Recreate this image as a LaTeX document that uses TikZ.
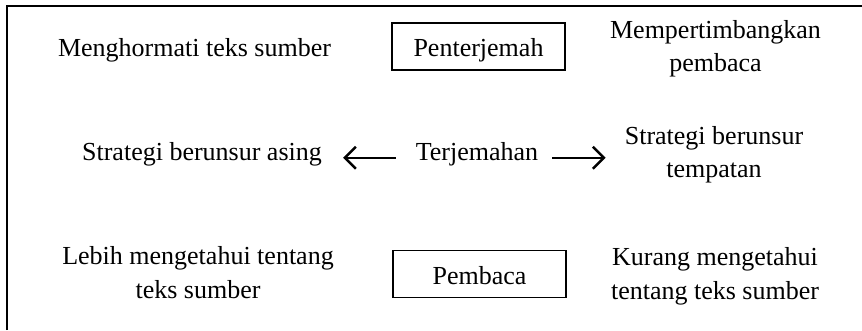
\documentclass[tikz,border=0pt]{standalone}
\usepackage{fontspec}
\setmainfont{Liberation Serif}
\usetikzlibrary{arrows.meta}
\begin{document}
\begin{tikzpicture}[x=1pt,y=-1pt,
  lbl/.style={align=center,inner sep=0pt,font=\fontsize{26}{33.5}\selectfont},
  boxed/.style={draw,line width=1.4pt,minimum width=173pt,minimum height=47pt,inner sep=0pt,
    text height=20pt,text depth=0pt,font=\fontsize{26}{33.5}\selectfont},
  arr/.style={line width=2.5pt,-{Straight Barb[length=11pt,width=22pt,line width=2.5pt]}}]
\useasboundingbox (0,0) rectangle (862,330);
\draw[line width=1.4pt] (7,330) -- (7,6) -- (862,6);
\node[lbl,anchor=base] (hormat) at (194.5,56) {Menghormati teks sumber};
\node[boxed] (penterj) at (478.5,46.5) {Penterjemah};
\node[lbl] (timbang) at (715.5,48.5) {Mempertimbangkan\\pembaca};
\node[lbl,anchor=base] (asing) at (202,160) {Strategi berunsur asing};
\node[lbl,anchor=base] (terj) at (477,160) {Terjemahan};
\node[lbl] (tempat) at (714,154.5) {Strategi berunsur\\tempatan};
\node[lbl] (lebih) at (198,272.6) {Lebih mengetahui tentang\\teks sumber};
\node[boxed] (pembaca) at (479.5,274) {Pembaca};
\node[lbl] (kurang) at (715,276.4) {Kurang mengetahui\\tentang teks sumber};
\draw[arr,shorten <=20pt,shorten >=21pt] ([yshift=-4pt]terj.west) -- ([yshift=-4pt]terj.west -| asing.east);
\draw[arr,shorten <=14pt,shorten >=19pt] ([yshift=-4pt]terj.east) -- ([yshift=-4pt]terj.east -| tempat.west);
\end{tikzpicture}
\end{document}
